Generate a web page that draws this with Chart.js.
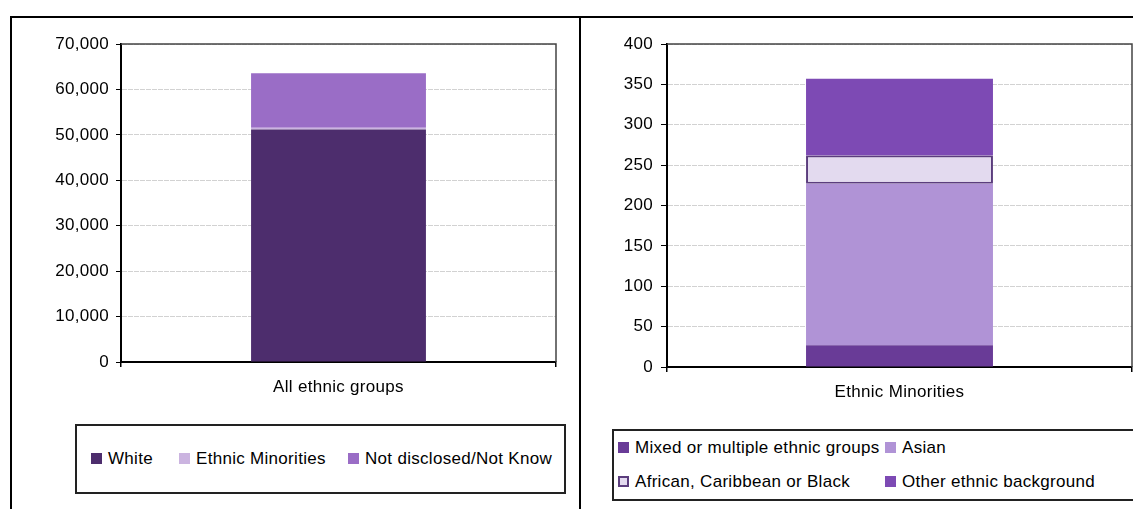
<!DOCTYPE html>
<html lang="en">
<head>
  <meta charset="UTF-8">
  <title>Ethnic groups</title>
  <script src="https://cdn.jsdelivr.net/npm/chart.js"></script>
  <style>
    body {
      margin: 0;
      width: 1133px;
      height: 509px;
      overflow: hidden;
      background: #fff;
      font-family: "Liberation Sans", Arial, sans-serif;
      position: relative;
    }
    .line { position: absolute; background: #000; }
    .wrap { position: absolute; }
    .legend {
      position: absolute;
      border: 2px solid #222;
      box-sizing: border-box;
      font-size: 17px;
      letter-spacing: 0.3px;
      color: #000;
    }
    .item { position: absolute; white-space: nowrap; line-height: 19px; }
    .item span.box {
      position: absolute;
      width: 11px;
      height: 11px;
      box-sizing: border-box;
      top: 4px;
    }
  </style>
</head>
<body>
  <div class="line" style="left:10px;top:16px;width:1123px;height:2px"></div>
  <div class="line" style="left:10px;top:16px;width:2px;height:493px"></div>
  <div class="line" style="left:579px;top:16px;width:2px;height:493px"></div>

  <div class="wrap" style="left:12px;top:18px;width:566px;height:400px">
    <canvas id="leftChart" width="566" height="400"></canvas>
  </div>
  <div class="wrap" style="left:582px;top:18px;width:551px;height:400px">
    <canvas id="rightChart" width="551" height="400"></canvas>
  </div>

  <div class="legend" id="leftLegend" style="left:75px;top:424px;width:491px;height:70px"></div>
  <div class="legend" id="rightLegend" style="left:612px;top:429px;width:540px;height:72px"></div>

  <script>
    // left chart: all staff by ethnic group
    const leftCategories = ['All ethnic groups'];
    const leftSeriesNames = ['White', 'Ethnic Minorities', 'Not disclosed/Not Know'];
    const whiteValues = [51200];
    const minorityValues = [357];
    const notDisclosedValues = [12000];
    const leftTicks = [0, 10000, 20000, 30000, 40000, 50000, 60000, 70000];

    // right chart: breakdown of ethnic minorities
    const rightCategories = ['Ethnic Minorities'];
    const rightSeriesNames = ['Mixed or multiple ethnic groups', 'Asian', 'African, Caribbean or Black', 'Other ethnic background'];
    const mixedValues = [27];
    const asianValues = [200];
    const africanValues = [35];
    const otherValues = [95];
    const rightTicks = [0, 50, 100, 150, 200, 250, 300, 350, 400];

    const FONT = { family: '"Liberation Sans", Arial, sans-serif', size: 17 };

    // dark top/right edge of the plot area, plus slightly wider text
    const plotFrame = {
      id: 'plotFrame',
      beforeDraw(chart) {
        chart.ctx.letterSpacing = '0.3px';
      },
      afterDraw(chart) {
        const a = chart.chartArea;
        const ctx = chart.ctx;
        ctx.save();
        ctx.strokeStyle = '#444';
        ctx.lineWidth = 1.5;
        ctx.beginPath();
        ctx.moveTo(a.left, a.top);
        ctx.lineTo(a.right, a.top);
        ctx.lineTo(a.right, a.bottom);
        ctx.stroke();
        ctx.restore();
      }
    };

    function makeChart(id, labels, datasets, ticks, opts) {
      const max = ticks[ticks.length - 1];
      const step = ticks[1] - ticks[0];
      return new Chart(document.getElementById(id), {
        type: 'bar',
        data: { labels: labels, datasets: datasets },
        plugins: [plotFrame],
        options: {
          responsive: false,
          animation: false,
          layout: { padding: opts.padding },
          plugins: { legend: { display: false }, tooltip: { enabled: false } },
          datasets: { bar: { categoryPercentage: 1, barPercentage: 0.402 } },
          scales: {
            x: {
              stacked: true,
              offset: true,
              grid: { offset: true, drawOnChartArea: false, tickLength: 5, tickColor: '#000', lineWidth: 1.5 },
              border: { color: '#000', width: 2 },
              ticks: { color: '#000', font: FONT, padding: 10 },
              afterFit: (s) => { s.height = opts.xHeight; }
            },
            y: {
              stacked: true,
              min: 0,
              max: max,
              grid: { color: '#d2d2d2', tickLength: opts.tickLen, tickColor: '#000', lineWidth: 1 },
              border: { color: '#000', width: 2, dash: [5, 1] },
              ticks: {
                stepSize: step,
                color: '#000',
                font: FONT,
                padding: opts.tickPad,
                callback: (v) => v.toLocaleString('en-US')
              },
              afterFit: (s) => { s.width = opts.yWidth; }
            }
          }
        }
      });
    }

    const leftColors = ['#4d2d6d', '#cbb4e0', '#9a6dc6'];
    const leftData = [whiteValues, minorityValues, notDisclosedValues];
    makeChart('leftChart', leftCategories,
      leftSeriesNames.map((n, i) => ({ label: n, data: leftData[i], backgroundColor: leftColors[i] })),
      leftTicks,
      { padding: { top: 26, right: 22, left: 0, bottom: 0 }, xHeight: 56, yWidth: 109, tickLen: 5, tickPad: 7 });

    const rightColors = ['#693b97', '#b093d6', '#e3daef', '#7d4ab4'];
    const rightBorders = [null, null, '#5b3d7d', null];
    const rightData = [mixedValues, asianValues, africanValues, otherValues];
    makeChart('rightChart', rightCategories,
      rightSeriesNames.map((n, i) => ({
        label: n,
        data: rightData[i],
        backgroundColor: rightColors[i],
        borderColor: rightBorders[i] || rightColors[i],
        borderWidth: rightBorders[i] ? 2 : 0,
        borderSkipped: false
      })),
      rightTicks,
      { padding: { top: 26, right: 1, left: 0, bottom: 0 }, xHeight: 51, yWidth: 85, tickLen: 6, tickPad: 8 });

    // html legends
    function buildLegend(elId, names, colors, borders, spots) {
      const el = document.getElementById(elId);
      names.forEach((n, i) => {
        const it = document.createElement('div');
        it.className = 'item';
        it.style.left = spots[i][0] + 'px';
        it.style.top = spots[i][1] + 'px';
        const b = document.createElement('span');
        b.className = 'box';
        b.style.left = '0px';
        b.style.background = colors[i];
        if (borders && borders[i]) b.style.border = '2px solid ' + borders[i];
        const t = document.createElement('span');
        t.textContent = n;
        t.style.marginLeft = '17px';
        it.appendChild(b);
        it.appendChild(t);
        el.appendChild(it);
      });
    }
    buildLegend('leftLegend', leftSeriesNames, leftColors, null, [[14, 23], [102, 23], [271, 23]]);
    buildLegend('rightLegend', rightSeriesNames, rightColors, rightBorders, [[4, 7], [271, 7], [4, 41], [271, 41]]);
  </script>
</body>
</html>
